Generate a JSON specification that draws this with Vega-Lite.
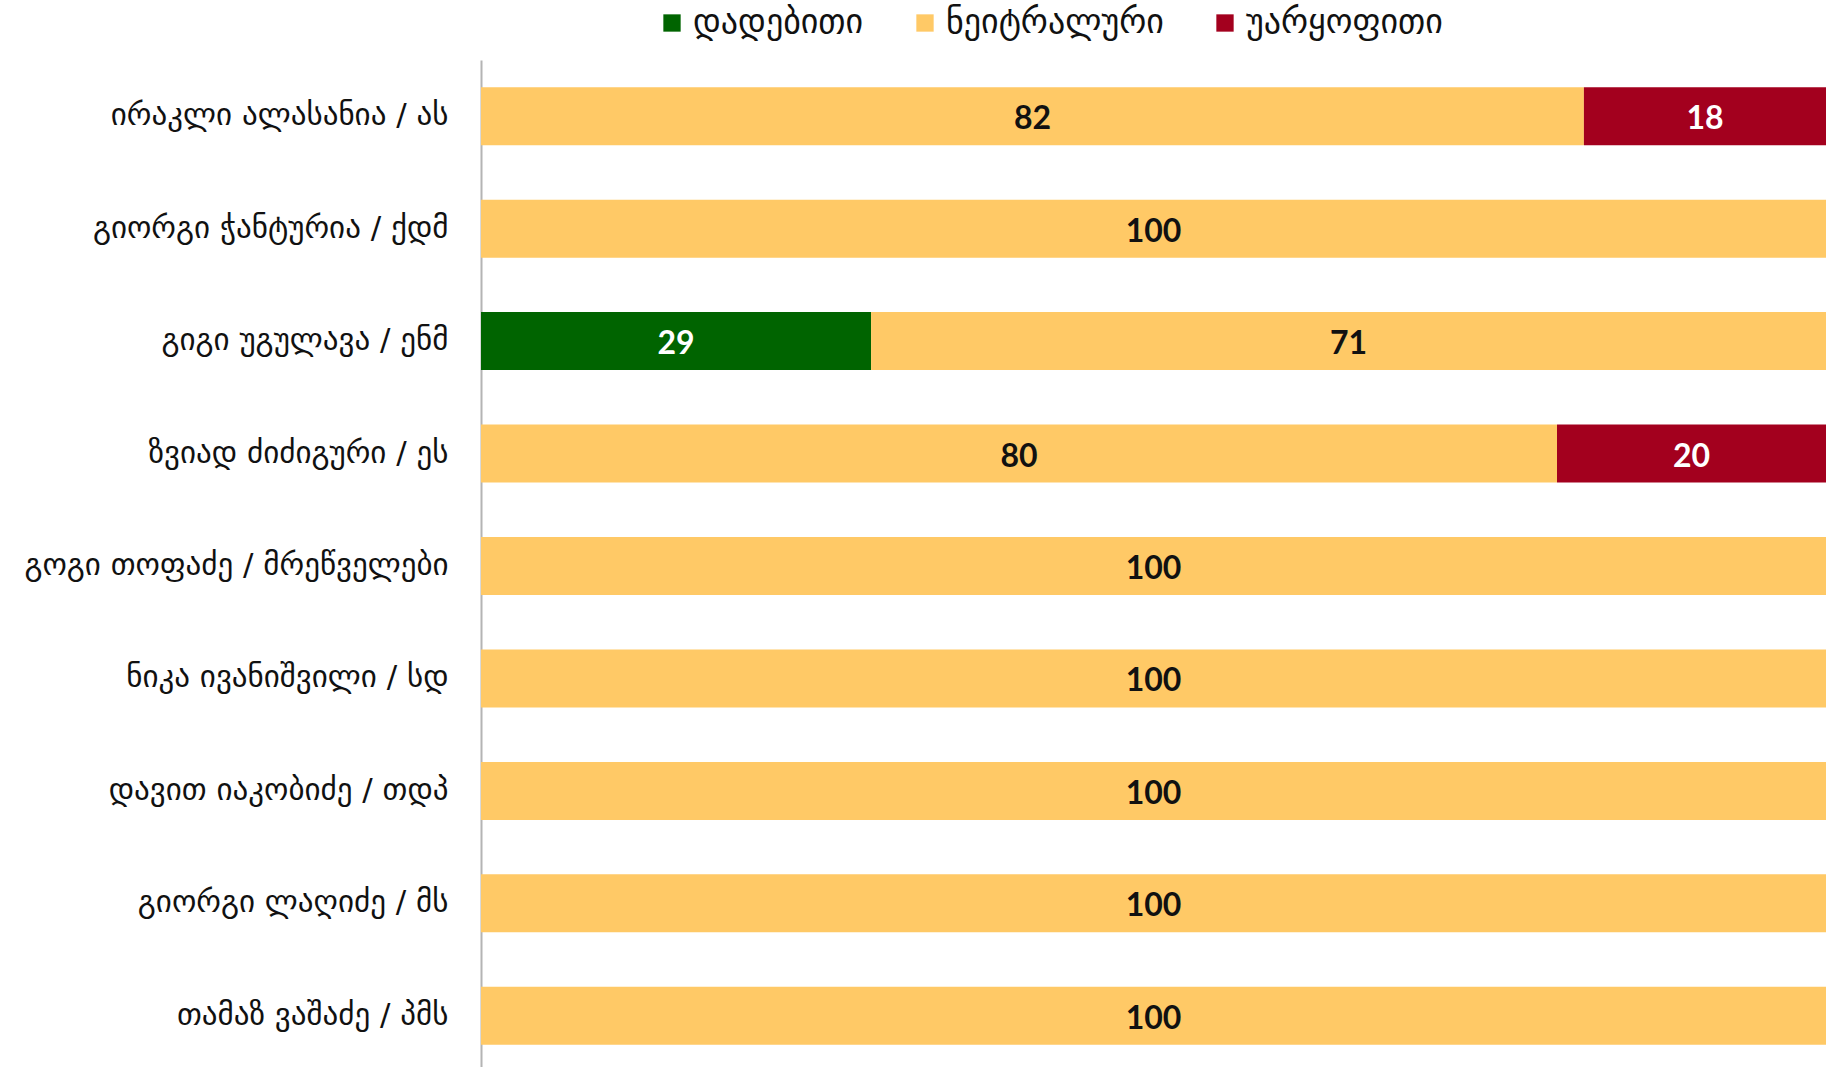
{
  "$schema": "https://vega.github.io/schema/vega-lite/v6.json",
  "autosize": {"type": "none"},
  "padding": {"left": 481, "top": 60, "right": 6, "bottom": 0},
  "width": 1345,
  "height": 1012,
  "background": "white",
  "config": {"view": {"stroke": null}},
  "data": {"values": [
    {"name": "ირაკლი ალასანია / ას", "sentiment": "ნეიტრალური", "value": 82},
    {"name": "ირაკლი ალასანია / ას", "sentiment": "უარყოფითი", "value": 18},
    {"name": "გიორგი ჭანტურია / ქდმ", "sentiment": "ნეიტრალური", "value": 100},
    {"name": "გიგი უგულავა / ენმ", "sentiment": "დადებითი", "value": 29},
    {"name": "გიგი უგულავა / ენმ", "sentiment": "ნეიტრალური", "value": 71},
    {"name": "ზვიად ძიძიგური / ეს", "sentiment": "ნეიტრალური", "value": 80},
    {"name": "ზვიად ძიძიგური / ეს", "sentiment": "უარყოფითი", "value": 20},
    {"name": "გოგი თოფაძე / მრეწველები", "sentiment": "ნეიტრალური", "value": 100},
    {"name": "ნიკა ივანიშვილი / სდ", "sentiment": "ნეიტრალური", "value": 100},
    {"name": "დავით იაკობიძე / თდპ", "sentiment": "ნეიტრალური", "value": 100},
    {"name": "გიორგი ლაღიძე / მს", "sentiment": "ნეიტრალური", "value": 100},
    {"name": "თამაზ ვაშაძე / პმს", "sentiment": "ნეიტრალური", "value": 100}
  ]},
  "encoding": {
    "y": {
      "field": "name", "type": "nominal", "sort": null,
      "scale": {"paddingInner": 0.484, "paddingOuter": 0.242},
      "axis": {
        "title": null, "ticks": false, "domainColor": "#B4B4B4", "domainWidth": 2,
        "labelFont": "DejaVu Sans", "labelFontSize": 31, "labelColor": "#111111",
        "labelPadding": 33, "labelLimit": 480
      }
    }
  },
  "layer": [
    {
      "mark": {"type": "bar"},
      "encoding": {
        "x": {"field": "value", "type": "quantitative", "stack": "zero",
              "scale": {"domain": [0, 100], "nice": false}, "axis": null},
        "order": {"field": "sentiment", "sort": "ascending"},
        "color": {
          "field": "sentiment", "type": "nominal",
          "scale": {"domain": ["დადებითი", "ნეიტრალური", "უარყოფითი"],
                    "range": ["#006400", "#FFC966", "#A3001E"]},
          "legend": {
            "title": null, "orient": "none", "direction": "horizontal",
            "legendX": 174, "legendY": -54, "padding": 0,
            "symbolType": "square", "symbolSize": 300, "symbolStrokeWidth": 0,
            "labelFont": "DejaVu Sans", "labelFontSize": 34, "labelColor": "#111111",
            "labelLimit": 500, "columnPadding": 44, "labelOffset": 4
          }
        }
      }
    },
    {
      "mark": {"type": "text", "font": "Lato", "fontWeight": "bold", "fontSize": 32, "baseline": "middle", "align": "center", "dy": 3},
      "encoding": {
        "x": {"field": "value", "type": "quantitative", "stack": "zero", "bandPosition": 0.5},
        "order": {"field": "sentiment", "sort": "ascending"},
        "detail": {"field": "sentiment", "type": "nominal"},
        "text": {"field": "value", "type": "quantitative"},
        "color": {"condition": {"test": "datum.sentiment === 'ნეიტრალური'", "value": "#111111"}, "value": "white"}
      }
    }
  ]
}
